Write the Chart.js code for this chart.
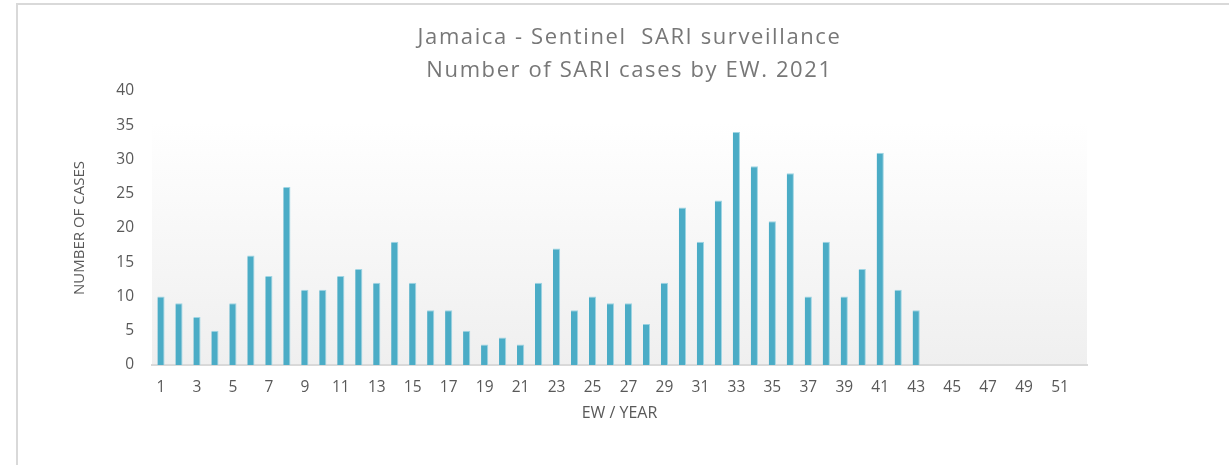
<!DOCTYPE html>
<html>
<head>
<meta charset="utf-8">
<script src="https://cdn.jsdelivr.net/npm/chart.js@4"></script>
<style>
  body { margin: 0; background: #fff; overflow: hidden; }
  #wrap { position: relative; width: 1229px; height: 465px; }
  #frame {
    position: absolute; left: 16px; top: 3px; right: -10px; bottom: -10px;
    border-left: 2px solid #d9d9d9; border-top: 2px solid #d9d9d9;
    pointer-events: none;
  }
  canvas { position: absolute; left: 0; top: 0; }
</style>
</head>
<body>
<div id="wrap">
  <canvas id="sariChart" width="1229" height="465"></canvas>
  <div id="frame"></div>
</div>
<script>
// epidemiological weeks 1..52
const weeks = ['1','2','3','4','5','6','7','8','9','10','11','12','13','14','15','16','17','18',
  '19','20','21','22','23','24','25','26','27','28','29','30','31','32','33','34','35','36',
  '37','38','39','40','41','42','43','44','45','46','47','48','49','50','51','52'];

// SARI cases per week (no data yet after EW 43)
const sariCases = [10, 9, 7, 5, 9, 16, 13, 26, 11, 11, 13, 14, 12, 18, 12, 8, 8, 5, 3, 4, 3,
  12, 17, 8, 10, 9, 9, 6, 12, 23, 18, 24, 34, 29, 21, 28, 10, 18, 10, 14, 31, 11, 8,
  null, null, null, null, null, null, null, null, null];

const yTicks = [0, 5, 10, 15, 20, 25, 30, 35, 40];

const titleLines = ['Jamaica - Sentinel  SARI surveillance', 'Number of SARI cases by EW. 2021'];

// light gray gradient behind the bars, like the spreadsheet plot area
const plotBg = {
  id: 'plotBg',
  beforeDraw(chart) {
    const { ctx, chartArea, scales } = chart;
    const top = scales.y.getPixelForValue(35.5);
    const g = ctx.createLinearGradient(0, top, 0, chartArea.bottom);
    g.addColorStop(0, '#ffffff');
    g.addColorStop(1, '#efefef');
    ctx.save();
    ctx.fillStyle = g;
    ctx.fillRect(chartArea.left, top, chartArea.right - chartArea.left, chartArea.bottom - top);
    ctx.restore();
  }
};

// the original title is a bit letter-spaced
const titleSpacing = {
  id: 'titleSpacing',
  beforeDraw(chart) {
    const tb = chart.titleBlock;
    if (tb && !tb._spaced) {
      const orig = tb.draw.bind(tb);
      tb.draw = function () {
        const c = this.ctx;
        c.save();
        c.letterSpacing = '1.6px';
        c.translate(10, 0);
        orig();
        c.restore();
      };
      tb._spaced = true;
    }
  }
};

const ctx = document.getElementById('sariChart').getContext('2d');
const sariChart = new Chart(ctx, {
  type: 'bar',
  data: {
    labels: weeks,
    datasets: [{
      label: 'SARI cases',
      data: sariCases,
      backgroundColor: '#4bacc6',
      borderColor: '#9fd5e3',
      borderWidth: { top: 1, right: 1, left: 0, bottom: 0 },
      barPercentage: 0.4,
      categoryPercentage: 1.0
    }]
  },
  plugins: [plotBg, titleSpacing],
  options: {
    responsive: false,
    animation: false,
    devicePixelRatio: 1,
    layout: {
      padding: { left: 66, right: 142, top: 0, bottom: 32 }
    },
    plugins: {
      legend: { display: false },
      tooltip: { enabled: false },
      title: {
        display: true,
        fullSize: false,
        text: titleLines,
        color: '#777777',
        font: { family: 'Open Sans', size: 22, weight: 'normal', lineHeight: 1.5 },
        padding: { top: 21, bottom: 4 }
      }
    },
    scales: {
      x: {
        grid: { display: false, drawTicks: false },
        border: { display: true, color: '#d9d9d9', width: 2 },
        ticks: {
          color: '#595959',
          font: { family: 'Open Sans', size: 15.5 },
          padding: 13,
          autoSkip: false,
          maxRotation: 0,
          callback: function (val, i) { return i % 2 === 0 ? this.getLabelForValue(val) : ''; }
        },
        title: {
          display: true,
          text: 'EW / YEAR',
          color: '#595959',
          font: { family: 'Open Sans', size: 16 },
          padding: { top: 7, bottom: 10 }
        },
        afterFit: (axis) => { axis.height = 68; }
      },
      y: {
        min: 0,
        max: 40,
        afterBuildTicks: (axis) => { axis.ticks = yTicks.map(v => ({ value: v })); },
        grid: { display: false, drawTicks: false },
        border: { display: false },
        ticks: {
          color: '#595959',
          font: { family: 'Open Sans', size: 15.5 },
          padding: 18
        },
        title: {
          display: true,
          text: 'NUMBER OF CASES',
          color: '#595959',
          font: { family: 'Open Sans', size: 15 },
          padding: { top: 5, bottom: 0 }
        },
        afterFit: (axis) => { axis.width = 86; }
      }
    }
  }
});
</script>
</body>
</html>
